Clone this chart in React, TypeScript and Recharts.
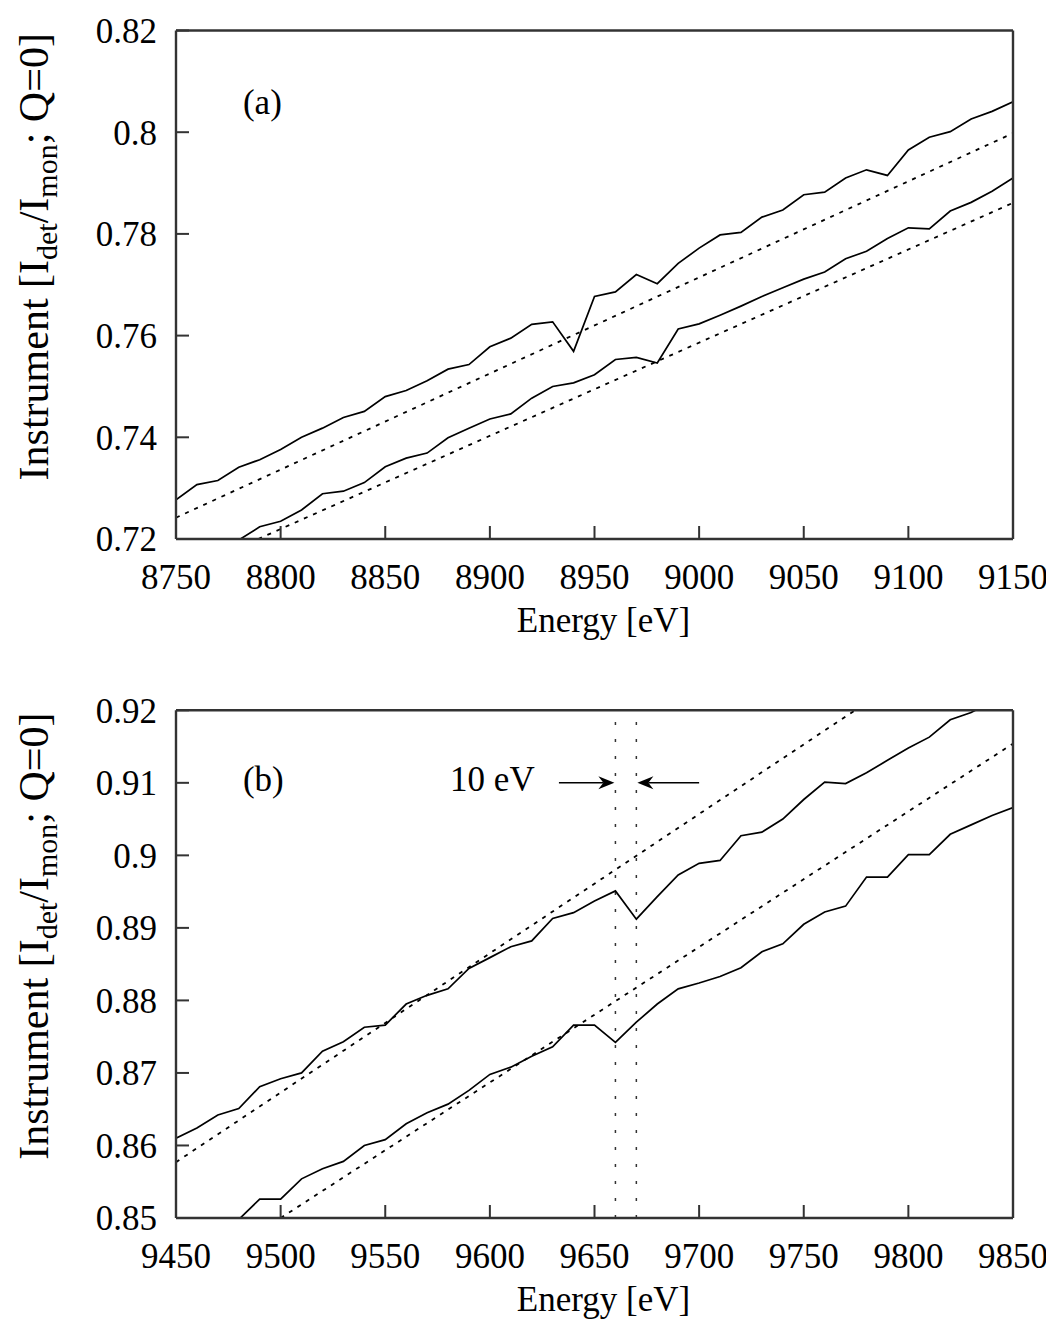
import React from 'react';
import { LineChart, Line, XAxis, YAxis, ReferenceLine, ReferenceDot } from 'recharts';

// panel (a): 8750 - 9150 eV
const energyA = [
  8750, 8760, 8770, 8780, 8790, 8800, 8810, 8820, 8830, 8840, 8850, 8860, 8870, 8880,
  8890, 8900, 8910, 8920, 8930, 8940, 8950, 8960, 8970, 8980, 8990, 9000, 9010, 9020,
  9030, 9040, 9050, 9060, 9070, 9080, 9090, 9100, 9110, 9120, 9130, 9140, 9150,
];
const upperA = [
  0.7277, 0.7307, 0.7315, 0.7341, 0.7356, 0.7376, 0.74, 0.7418, 0.7439, 0.7451, 0.748, 0.7492,
  0.7511, 0.7534, 0.7543, 0.7578, 0.7595, 0.7622, 0.7627, 0.7569, 0.7677, 0.7686, 0.772, 0.7702,
  0.7742, 0.7772, 0.7798, 0.7803, 0.7833, 0.7847, 0.7877, 0.7882, 0.791, 0.7926, 0.7915, 0.7965,
  0.799, 0.8001, 0.8026, 0.8041, 0.806,
];
const lowerA = [
  0.715, 0.7165, 0.718, 0.7198, 0.7224, 0.7235, 0.7257, 0.7289, 0.7294, 0.7311, 0.7342, 0.7359,
  0.7369, 0.7399, 0.7418, 0.7436, 0.7446, 0.7477, 0.75, 0.7507, 0.7523, 0.7553, 0.7557, 0.7546,
  0.7613, 0.7623, 0.764, 0.7658, 0.7677, 0.7694, 0.7711, 0.7725, 0.7751, 0.7766, 0.7791, 0.7812,
  0.781, 0.7845, 0.7862, 0.7884, 0.791,
];
const fitUpperA = [{ e: 8750, v: 0.7242 }, { e: 9150, v: 0.7998 }];
const fitLowerA = [{ e: 8750, v: 0.7128 }, { e: 9150, v: 0.7861 }];
const xTicksA = [8750, 8800, 8850, 8900, 8950, 9000, 9050, 9100, 9150];
const yTicksA = [0.72, 0.74, 0.76, 0.78, 0.8, 0.82];

// panel (b): 9450 - 9850 eV
const energyB = [
  9450, 9460, 9470, 9480, 9490, 9500, 9510, 9520, 9530, 9540, 9550, 9560, 9570, 9580,
  9590, 9600, 9610, 9620, 9630, 9640, 9650, 9660, 9670, 9680, 9690, 9700, 9710, 9720,
  9730, 9740, 9750, 9760, 9770, 9780, 9790, 9800, 9810, 9820, 9830, 9840, 9850,
];
const upperB = [
  0.861, 0.8624, 0.8642, 0.8651, 0.8681, 0.8692, 0.87, 0.873, 0.8743, 0.8763, 0.8766, 0.8795,
  0.8807, 0.8816, 0.8844, 0.8859, 0.8874, 0.8882, 0.8913, 0.8921, 0.8937, 0.8951, 0.8912, 0.8943,
  0.8973, 0.8989, 0.8993, 0.9027, 0.9032, 0.905, 0.9077, 0.9101, 0.9099, 0.9114, 0.9131, 0.9148,
  0.9163, 0.9187, 0.9197, 0.9212, 0.9226,
];
const lowerB = [
  0.846, 0.8472, 0.8485, 0.8498, 0.8526, 0.8526, 0.8554, 0.8568, 0.8578, 0.86, 0.8608, 0.863,
  0.8645, 0.8657, 0.8676, 0.8698, 0.8708, 0.8723, 0.8736, 0.8766, 0.8766, 0.8742, 0.877, 0.8795,
  0.8816, 0.8824, 0.8833, 0.8845, 0.8867, 0.8878, 0.8905, 0.8922, 0.893, 0.897, 0.897, 0.9001,
  0.9001, 0.9029, 0.9042, 0.9055, 0.9066,
];
const fitUpperB = [{ e: 9450, v: 0.8577 }, { e: 9850, v: 0.9345 }];
const fitLowerB = [{ e: 9500, v: 0.85 }, { e: 9850, v: 0.9154 }];
const xTicksB = [9450, 9500, 9550, 9600, 9650, 9700, 9750, 9800, 9850];
const yTicksB = [0.85, 0.86, 0.87, 0.88, 0.89, 0.9, 0.91, 0.92];
const edgeLines = [9660, 9670];

const rowsA = energyA.map((e, i) => ({ e, upper: upperA[i], lower: lowerA[i] }));
const rowsB = energyB.map((e, i) => ({ e, upper: upperB[i], lower: lowerB[i] }));

const SERIF = '"Liberation Serif", "Times New Roman", serif';
const FRAME = '#333';
const tickFont = { fontFamily: SERIF, fontSize: 35, fill: '#000' };
const frameLine = { stroke: FRAME, strokeWidth: 2.4 };
const frameTick = { stroke: FRAME, strokeWidth: 2 };

const YLabel = (props: any) => {
  const vb = props.viewBox || {};
  const x = (vb.x || 0) + 40;
  const y = (vb.y || 0) + (vb.height || 0) / 2 - 28;
  return (
    <text x={x} y={y} transform={`rotate(-90, ${x}, ${y})`} textAnchor="middle"
      fontFamily={SERIF} fontSize={42} fill="#000">
      Instrument [I<tspan fontSize={30} dy={9}>det</tspan>
      <tspan dy={-9}>/I</tspan><tspan fontSize={30} dy={9}>mon</tspan>
      <tspan dy={-9}>; Q=0]</tspan>
    </text>
  );
};

const XLabel = (props: any) => {
  const vb = props.viewBox || {};
  return (
    <text x={(vb.x || 0) + (vb.width || 0) / 2 + 9} y={(vb.y || 0) + 93} textAnchor="middle"
      fontFamily={SERIF} fontSize={35} fill="#000">
      Energy [eV]
    </text>
  );
};

const textAt = (value: string) => (props: any) => {
  const vb = props.viewBox || {};
  return (
    <text x={vb.x} y={vb.y} fontFamily={SERIF} fontSize={35} fill="#000">{value}</text>
  );
};

const arrowShape = (props: any) => {
  const { x1, y1, x2, y2 } = props;
  const ang = Math.atan2(y2 - y1, x2 - x1);
  const c = Math.cos(ang);
  const s = Math.sin(ang);
  const len = 16;
  const half = 6.5;
  const bx = x2 - len * c;
  const by = y2 - len * s;
  const nx = x2 - 11 * c;
  const ny = y2 - 11 * s;
  const pts = `${x2},${y2} ${bx - half * s},${by + half * c} ${nx},${ny} ${bx + half * s},${by - half * c}`;
  return (
    <g>
      <line x1={x1} y1={y1} x2={nx} y2={ny} stroke="#000" strokeWidth={1.5} />
      <polygon points={pts} fill="#000" />
    </g>
  );
};

// frame: labelled bottom/left axes plus tick-only mirrors on top/right (1px so they render)
const frameAxes = (xDomain: number[], yDomain: number[], xTicks: number[], yTicks: number[], xh: number) => [
  <XAxis key="xb" dataKey="e" type="number" domain={xDomain} ticks={xTicks} interval={0}
    allowDataOverflow height={xh} tickSize={-13} tickMargin={38} tick={tickFont}
    axisLine={frameLine} tickLine={frameTick} label={(p: any) => <XLabel {...p} />} />,
  <XAxis key="xt" xAxisId="top" orientation="top" type="number" domain={xDomain} ticks={xTicks}
    interval={0} allowDataOverflow height={1} tickSize={-13} tick={false}
    axisLine={frameLine} tickLine={frameTick} />,
  <YAxis key="yl" type="number" domain={yDomain} ticks={yTicks} interval={0} allowDataOverflow
    width={168} tickSize={-13} tickMargin={32} tick={tickFont}
    axisLine={frameLine} tickLine={frameTick} label={(p: any) => <YLabel {...p} />} />,
  <YAxis key="yr" yAxisId="right" orientation="right" type="number" domain={yDomain}
    ticks={yTicks} interval={0} allowDataOverflow width={1} tickSize={-13} tick={false}
    axisLine={frameLine} tickLine={frameTick} />,
];

const solid = { type: 'linear' as const, stroke: '#000', strokeWidth: 1.7, dot: false, isAnimationActive: false };
const dotted = { ...solid, strokeWidth: 1.8, strokeDasharray: '4 6' };
const hidden = { ...solid, stroke: 'none', xAxisId: 'top', yAxisId: 'right' };

export default function App() {
  return (
    <div style={{ width: 1046 }}>
      <LineChart width={1046} height={660} data={rowsA}
        margin={{ top: 21.5, right: 40, bottom: 19, left: 0 }}>
        {frameAxes([8750, 9150], [0.72, 0.82], xTicksA, yTicksA, 110)}
        <Line {...hidden} dataKey="upper" />
        <Line {...dotted} data={fitUpperA} dataKey="v" />
        <Line {...dotted} data={fitLowerA} dataKey="v" />
        <Line {...solid} dataKey="upper" />
        <Line {...solid} dataKey="lower" />
        <ReferenceDot x={8782} y={0.8036} r={0} fill="none" stroke="none" label={textAt('(a)')} />
      </LineChart>
      <LineChart width={1046} height={652} data={rowsB}
        margin={{ top: 41.3, right: 40, bottom: 7, left: 0 }}>
        {frameAxes([9450, 9850], [0.85, 0.92], xTicksB, yTicksB, 95)}
        <Line {...hidden} dataKey="upper" />
        {edgeLines.map((x) => (
          <ReferenceLine key={x} x={x} stroke="#333" strokeWidth={1.5} strokeDasharray="3 14" />
        ))}
        <Line {...dotted} data={fitUpperB} dataKey="v" />
        <Line {...dotted} data={fitLowerB} dataKey="v" />
        <Line {...solid} dataKey="upper" />
        <Line {...solid} dataKey="lower" />
        <ReferenceLine segment={[{ x: 9633, y: 0.91 }, { x: 9659.5, y: 0.91 }]} shape={arrowShape} />
        <ReferenceLine segment={[{ x: 9700, y: 0.91 }, { x: 9670.5, y: 0.91 }]} shape={arrowShape} />
        <ReferenceDot x={9482} y={0.9089} r={0} fill="none" stroke="none" label={textAt('(b)')} />
        <ReferenceDot x={9581} y={0.9089} r={0} fill="none" stroke="none" label={textAt('10 eV')} />
      </LineChart>
    </div>
  );
}
